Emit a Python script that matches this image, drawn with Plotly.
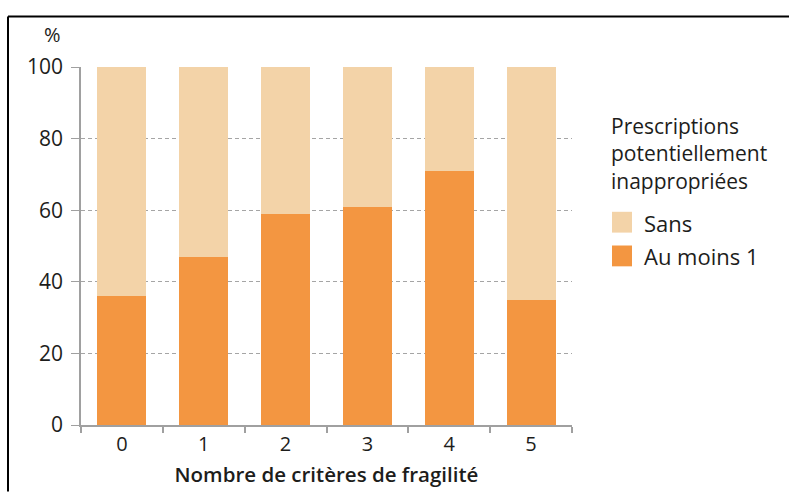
import plotly.graph_objects as go

# ---- data ----
categories = ["0", "1", "2", "3", "4", "5"]
au_moins_1 = [36, 47, 59, 61, 71, 35]
sans = [100 - v for v in au_moins_1]
series_names = ["Sans", "Au moins 1"]
legend_title_lines = ["Prescriptions", "potentiellement", "inappropriées"]
y_ticks = [0, 20, 40, 60, 80, 100]
x_title = "Nombre de critères de fragilité"
y_unit = "%"

# ---- style ----
W, H = 789, 495
L, R, T, B = 81, 572, 67, 428  # plot area in pixels
PW, PH = R - L, B - T
C_DARK = "#F39641"
C_LIGHT = "#F3D3A8"
TXT = "#1d1d1b"
FONT = "Open Sans"


def px(x):
    return (x - L) / PW


def py(y):
    return (B - y) / PH


fig = go.Figure()
fig.add_trace(go.Bar(x=categories, y=au_moins_1, name=series_names[1],
                     marker=dict(color=C_DARK, line=dict(width=0)), showlegend=False))
fig.add_trace(go.Bar(x=categories, y=sans, name=series_names[0],
                     marker=dict(color=C_LIGHT, line=dict(width=0)), showlegend=False))

fig.update_layout(
    width=W, height=H,
    margin=dict(l=L, r=W - R, t=T, b=H - B, pad=0),
    barmode="stack", bargap=0.4,
    paper_bgcolor="white", plot_bgcolor="white",
    font=dict(family=FONT, color=TXT, size=20),
    showlegend=False,
)
fig.update_xaxes(
    type="category", tickson="boundaries", ticks="outside", ticklen=6,
    tickcolor="#a0a0a0", tickwidth=1.5, showline=True, linecolor="#a0a0a0", linewidth=1.5,
    showgrid=False, tickfont=dict(size=20, color=TXT),
    title=dict(text=x_title, font=dict(size=20.5, color=TXT, weight=600), standoff=12),
)
fig.update_yaxes(
    range=[0, 100], tickvals=y_ticks, ticks="outside", ticklen=8,
    tickcolor="#a0a0a0", tickwidth=1, showline=True, linecolor="#a0a0a0", linewidth=1.5,
    showgrid=True, gridcolor="#a5a5a5", gridwidth=1, griddash="4px,3px",
    zeroline=False, tickfont=dict(size=21, color=TXT), ticklabelstandoff=4,
)

annotations = []
shapes = []
# "%" label
annotations.append(dict(xref="paper", yref="paper", x=px(63), y=py(34), text=y_unit,
                        showarrow=False, xanchor="right", yanchor="middle",
                        font=dict(size=20, color=TXT)))
# legend title (one multi-line text)
annotations.append(dict(xref="paper", yref="paper", x=px(610), y=py(111),
                        text="<br>".join(legend_title_lines), showarrow=False,
                        xanchor="left", yanchor="top", align="left", borderpad=0,
                        font=dict(size=21, color=TXT)))
# legend items
for i, (name, col) in enumerate(zip(series_names, [C_LIGHT, C_DARK])):
    y0 = 213 + 34 * i
    shapes.append(dict(type="rect", xref="paper", yref="paper",
                       x0=px(612), x1=px(632), y0=py(y0), y1=py(y0 + 21),
                       fillcolor=col, line=dict(width=0)))
    annotations.append(dict(xref="paper", yref="paper", x=px(642), y=py(y0 + 11),
                            text=name, showarrow=False, xanchor="left", yanchor="middle",
                            font=dict(size=22, color=TXT)))
# frame (top and left lines)
shapes.append(dict(type="line", xref="paper", yref="paper", x0=px(8), x1=px(789),
                   y0=py(16), y1=py(16), line=dict(color="black", width=2)))
shapes.append(dict(type="line", xref="paper", yref="paper", x0=px(8), x1=px(8),
                   y0=py(16), y1=py(495), line=dict(color="black", width=2)))

fig.update_layout(annotations=annotations, shapes=shapes)
fig.write_html("out.html", config={"displayModeBar": False},
               post_script="document.body.style.margin='0px';document.body.style.overflow='hidden';")
